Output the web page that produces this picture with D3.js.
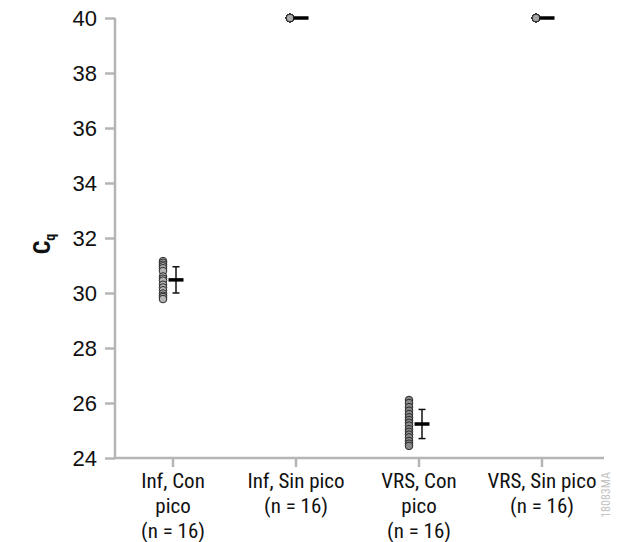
<!DOCTYPE html>
<html>
<head>
<meta charset="utf-8">
<script src="https://cdn.jsdelivr.net/npm/d3@7"></script>
<style>
  body { margin: 0; background: #fff; }
  svg { display: block; font-family: "Roboto Condensed", "Liberation Sans Narrow", Roboto, sans-serif; }
</style>
</head>
<body>
<svg id="chart" width="618" height="542"></svg>
<script>
// Group labels (each line of the wrapped category label)
const groups = [
  ["Inf, Con", "pico", "(n = 16)"],
  ["Inf, Sin pico", "(n = 16)"],
  ["VRS, Con", "pico", "(n = 16)"],
  ["VRS, Sin pico", "(n = 16)"]
];

// Cq values per replicate (16 per group)
const infCon = [31.16, 31.10, 31.03, 30.97, 30.90, 30.80, 30.60, 30.52,
                30.45, 30.30, 30.20, 30.10, 29.98, 29.90, 29.85, 29.78];
const infSin = [40, 40, 40, 40, 40, 40, 40, 40, 40, 40, 40, 40, 40, 40, 40, 40];
const vrsCon = [26.11, 26.00, 25.85, 25.72, 25.60, 25.48, 25.38, 25.28,
                25.18, 25.05, 24.95, 24.85, 24.75, 24.62, 24.52, 24.44];
const vrsSin = [40, 40, 40, 40, 40, 40, 40, 40, 40, 40, 40, 40, 40, 40, 40, 40];

const yTicks = [24, 26, 28, 30, 32, 34, 36, 38, 40];
const dotFill = ["#b4b4b4", "#adadad", "#8a8a8a", "#a6a6a6"];

const series = [infCon, infSin, vrsCon, vrsSin];

const svg = d3.select("#chart");
const axisColor = "#b5b5b5";

const x = d3.scalePoint()
  .domain(d3.range(groups.length))
  .range([173, 542]);

const y = d3.scaleLinear()
  .domain([24, 40])
  .range([458, 18]);

// Y axis
const yAxis = svg.append("g")
  .attr("transform", "translate(115,0)")
  .call(d3.axisLeft(y).tickValues(yTicks).tickSize(10).tickPadding(8).tickFormat(d3.format("d")));
yAxis.select(".domain").attr("stroke", axisColor).attr("stroke-width", 2.5)
  .attr("d", `M0,${y(40)}V${y(24)}`);
yAxis.selectAll(".tick line").attr("stroke", axisColor).attr("stroke-width", 2.5);
yAxis.selectAll(".tick text").attr("fill", "#111").attr("font-size", 22);

// X axis line with ticks
const xg = svg.append("g");
xg.append("line")
  .attr("x1", 114).attr("x2", 604)
  .attr("y1", y(24)).attr("y2", y(24))
  .attr("stroke", axisColor).attr("stroke-width", 2.5);
xg.selectAll("line.tick").data(groups).join("line")
  .attr("class", "tick")
  .attr("x1", (d, i) => x(i)).attr("x2", (d, i) => x(i))
  .attr("y1", y(24)).attr("y2", y(24) + 9)
  .attr("stroke", axisColor).attr("stroke-width", 2.5);

// Wrapped category labels
xg.selectAll("text.lab").data(groups).join("text")
  .attr("class", "lab")
  .attr("text-anchor", "middle")
  .attr("font-size", 21)
  .attr("fill", "#111")
  .each(function (lines, i) {
    d3.select(this).selectAll("tspan").data(lines).join("tspan")
      .attr("x", x(i))
      .attr("y", (d, k) => 488 + k * 25)
      .text(d => d);
  });

// Y axis title: C with subscript q
const yt = svg.append("text")
  .attr("transform", "translate(50,244) rotate(-90)")
  .attr("text-anchor", "middle")
  .attr("font-size", 24)
  .attr("font-weight", "bold")
  .attr("fill", "#111");
yt.append("tspan").text("C");
yt.append("tspan").attr("font-size", 14).attr("dy", 5).text("q");

// Replicate dots, mean bar and SD whiskers for each group
series.forEach((vals, i) => {
  const cx = x(i);
  const m = d3.mean(vals);
  const sd = d3.deviation(vals) || 0;
  const spread = sd > 0;
  const dotX = cx + (spread ? -10 : -6);
  const g = svg.append("g");

  g.selectAll("circle").data(vals).join("circle")
    .attr("cx", dotX)
    .attr("cy", d => y(d))
    .attr("r", 3.8)
    .attr("fill", dotFill[i])
    .attr("stroke", "#2a2a2a")
    .attr("stroke-width", 1);

  const mx = cx + (spread ? 3 : 5);
  if (spread) {
    g.append("line")
      .attr("x1", mx).attr("x2", mx)
      .attr("y1", y(m + sd)).attr("y2", y(m - sd))
      .attr("stroke", "#111").attr("stroke-width", 1.5);
    [m + sd, m - sd].forEach(v => {
      g.append("line")
        .attr("x1", mx - 3.5).attr("x2", mx + 3.5)
        .attr("y1", y(v)).attr("y2", y(v))
        .attr("stroke", "#111").attr("stroke-width", 1.5);
    });
  }
  g.append("line")
    .attr("x1", mx - 7.5).attr("x2", mx + 7.5)
    .attr("y1", y(m)).attr("y2", y(m))
    .attr("stroke", "#000").attr("stroke-width", 3.5);
});

// Figure code along the right edge
svg.append("text")
  .attr("transform", "translate(610,495) rotate(-90)")
  .attr("text-anchor", "middle")
  .attr("font-size", 12)
  .attr("fill", "#c4c4c4")
  .text("18083MA");
</script>
</body>
</html>
